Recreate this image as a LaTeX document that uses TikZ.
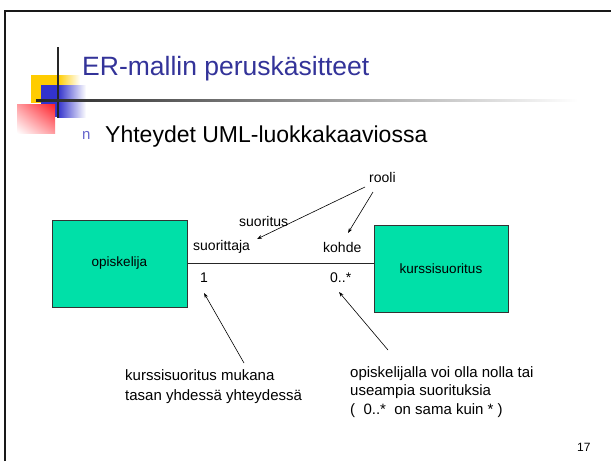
\documentclass[tikz,border=0pt]{standalone}
\usepackage{fontspec}
\setmainfont{Liberation Sans}
\usetikzlibrary{arrows.meta,shadings}
\definecolor{boxgreen}{RGB}{0,224,168}
\definecolor{titleblue}{RGB}{51,51,153}
\definecolor{bulletblue}{RGB}{102,102,204}
\definecolor{decoyellow}{RGB}{255,204,0}
\definecolor{decoblue}{RGB}{51,51,204}
\definecolor{decored}{RGB}{255,30,40}
\tikzset{
  entity/.style={draw=black!80, line width=1pt, fill=boxgreen, inner sep=0pt,
    font=\fontsize{13.5}{16}\selectfont},
  lbl/.style={inner sep=0pt, anchor=west, font=\fontsize{14}{16}\selectfont},
  note/.style={inner sep=0pt, anchor=north west, align=left},
  pointer/.style={line width=0.6pt, -{Stealth[length=5pt,width=3.5pt]}}
}
\begin{document}
\begin{tikzpicture}[x=1pt,y=-1pt]
\useasboundingbox (0,0) rectangle (611,461);
\fill[white] (0,0) rectangle (611,461);
% slide frame
\draw[line width=2pt, black!90] (5,461) -- (5,11) -- (611,11);
% decoration
\fill[decoyellow] (31,75) rectangle (58,103);
\shade[left color=decoyellow, right color=white] (58,75) rectangle (80,103);
\fill[decoblue] (41,85) rectangle (58,117);
\shade[left color=decoblue, right color=white] (58,85) rectangle (86,117);
\shade[upper right=decored, lower left=white, upper left=decored!45!white, lower right=decored!45!white] (17,104) rectangle (55,133);
\draw[line width=2pt, black!85] (58,47) -- (58,118);
\shade[left color=black!85, right color=white] (36,99) rectangle (578,101.5);
% title
\node[inner sep=0pt, anchor=base west, text=titleblue, font=\fontsize{26.5}{31}\selectfont] (title) at (82,75) {ER-mallin peruskäsitteet};
\node[inner sep=0pt, anchor=base west, text=bulletblue, font=\fontsize{15}{18}\selectfont] (bullet) at (82,139) {n};
\node[inner sep=0pt, anchor=base west, font=\fontsize{23}{27}\selectfont] (subtitle) at (105,142) {Yhteydet UML-luokkakaaviossa};
% entities
\node[entity, minimum width=135pt, minimum height=87pt] (op) at (119.5,263.5) {opiskelija};
\node[entity, minimum width=134pt, minimum height=87pt] (ks) at (441,268.5) {kurssisuoritus};
\draw[line width=0.8pt, black!85] (op.east) -- (op.east -| ks.west);
% labels
\node[lbl] (suorittaja) at (193,247) {suorittaja};
\node[lbl] (kohde) at (323,247) {kohde};
\node[lbl, anchor=center] (one) at (204,278) {1};
\node[lbl] (many) at (330,278) {0..*};
\node[lbl] (suoritus) at (239,221) {suoritus};
\node[lbl] (rooli) at (369,177) {rooli};
% notes
\node[note, font=\fontsize{15}{20}\selectfont] (note1) at (125,369) {kurssisuoritus mukana\\tasan yhdessä yhteydessä};
\node[note, font=\fontsize{15}{18.5}\selectfont] (note2) at (350,366) {opiskelijalla voi olla nolla tai\\useampia suorituksia\\(\ \ 0..*\ \ on sama kuin * )};
\node[inner sep=0pt, anchor=west, font=\fontsize{12}{14}\selectfont] (pagenum) at (577,447) {17};
% pointers
\coordinate (r1) at (365,187);
\coordinate (r2) at (373,192);
\coordinate (t1) at (257,239);
\coordinate (t2) at (348,233);
\coordinate (n1) at (244,363);
\coordinate (n2) at (388,350);
\coordinate (m1) at (204,293);
\coordinate (m2) at (339,292);
\draw[pointer] (r1) -- (t1);
\draw[pointer] (r2) -- (t2);
\draw[pointer] (n1) -- (m1);
\draw[pointer] (n2) -- (m2);
\end{tikzpicture}
\end{document}
